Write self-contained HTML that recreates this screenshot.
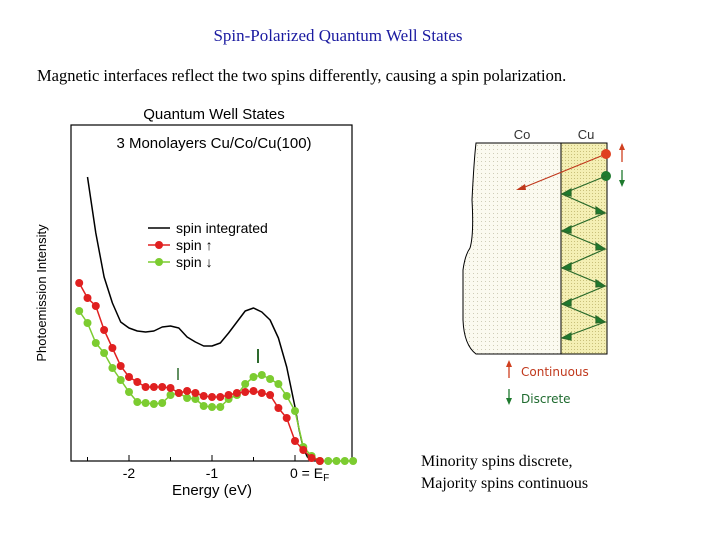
<!DOCTYPE html>
<html><head><meta charset="utf-8"><style>
body{margin:0;background:#fff;}
svg{display:block;}
</style></head><body>
<svg width="720" height="540" viewBox="0 0 720 540" xmlns="http://www.w3.org/2000/svg">
<defs>
<pattern id="dots" width="4" height="4" patternUnits="userSpaceOnUse"><rect width="4" height="4" fill="#fbfaf0"/><rect x="1" y="1" width="1" height="1" fill="#cfcdb8"/></pattern>
<pattern id="dotsY" width="3" height="3" patternUnits="userSpaceOnUse"><rect width="3" height="3" fill="#f4efb4"/><rect x="1" y="1" width="1" height="1" fill="#c9c07a"/></pattern>
</defs>
<text x="338" y="41" text-anchor="middle" font-family="Liberation Serif, serif" font-size="17" fill="#1a1aa0">Spin-Polarized Quantum Well States</text>
<text x="37" y="81" font-family="Liberation Serif, serif" font-size="16.5" fill="#000">Magnetic interfaces reflect the two spins differently, causing a spin polarization.</text>

<g id="chart">
<text x="214" y="119" text-anchor="middle" font-family="Liberation Sans, sans-serif" font-size="15">Quantum Well States</text>
<rect x="71" y="125" width="281" height="336" fill="none" stroke="#000" stroke-width="1.2"/>
<text x="214" y="148" text-anchor="middle" font-family="Liberation Sans, sans-serif" font-size="15">3 Monolayers Cu/Co/Cu(100)</text>
<text transform="translate(46,293) rotate(-90)" text-anchor="middle" font-family="Liberation Sans, sans-serif" font-size="13">Photoemission Intensity</text>
<text x="212" y="495" text-anchor="middle" font-family="Liberation Sans, sans-serif" font-size="15">Energy (eV)</text>
<g id="ticks"></g>
<g id="series"></g>
<line x1="178" y1="368" x2="178" y2="380" stroke="#2e6a2e" stroke-width="1.5"/>
<line x1="258" y1="349" x2="258" y2="363" stroke="#2e6a2e" stroke-width="2"/>
<g font-family="Liberation Sans, sans-serif" font-size="14">
<g><line x1="148" y1="228" x2="170" y2="228" stroke="#000" stroke-width="1.5"/><text x="176" y="233">spin integrated</text></g>
<g><line x1="148" y1="245" x2="170" y2="245" stroke="#e02020" stroke-width="1.5"/><circle cx="159" cy="245" r="4" fill="#e02020"/><text x="176" y="250">spin ↑</text></g>
<g><line x1="148" y1="262" x2="170" y2="262" stroke="#7ccc30" stroke-width="1.5"/><circle cx="159" cy="262" r="4" fill="#7ccc30"/><text x="176" y="267">spin ↓</text></g>
</g>
</g>

<g>
<text x="522" y="139" text-anchor="middle" font-family="Liberation Sans, sans-serif" font-size="13" fill="#333">Co</text>
<text x="586" y="139" text-anchor="middle" font-family="Liberation Sans, sans-serif" font-size="13" fill="#333">Cu</text>
<path d="M476,143 L561,143 L561,354 L476,354 Q464,345 463,320 L463,270 Q465,255 470,248 Q474,235 472,200 Q474,160 476,143 Z" fill="url(#dots)" stroke="#000"/>
<rect x="561" y="143" width="46" height="211" fill="url(#dotsY)" stroke="#000"/>
<line x1="606" y1="154" x2="520" y2="189" stroke="#c0381c" stroke-width="1.2"/>
<polygon points="516,190 525,184 526,190" fill="#c0381c"/>
<circle cx="606" cy="154" r="5" fill="#e04020"/>
<circle cx="606" cy="176" r="5" fill="#1e7a2e"/>
<g stroke="#2a6a2a" stroke-width="1.2" fill="#1e7a2e">
<polyline fill="none" points="606,176 562,194 605,213 562,231 605,249 562,268 605,286 562,304 605,322 562,338"/>
<polygon points="562,194 571,189 571,196"/><polygon points="605,213 596,207 596,214"/>
<polygon points="562,231 571,226 571,233"/><polygon points="605,249 596,243 596,250"/>
<polygon points="562,268 571,263 571,270"/><polygon points="605,286 596,280 596,287"/>
<polygon points="562,304 571,299 571,306"/><polygon points="605,322 596,316 596,323"/>
<polygon points="562,338 571,333 571,340"/>
</g>
<line x1="622" y1="148" x2="622" y2="162" stroke="#d04020" stroke-width="1.3"/><polygon points="619,150 625,150 622,143" fill="#d04020"/>
<line x1="622" y1="170" x2="622" y2="184" stroke="#1e7a2e" stroke-width="1.3"/><polygon points="619,180 625,180 622,187" fill="#1e7a2e"/>
<line x1="509" y1="366" x2="509" y2="378" stroke="#d04020" stroke-width="1.3"/><polygon points="506,367 512,367 509,360" fill="#d04020"/>
<text x="521" y="376" font-family="DejaVu Sans, sans-serif" font-size="12" fill="#c0381c">Continuous</text>
<line x1="509" y1="389" x2="509" y2="400" stroke="#1e7a2e" stroke-width="1.3"/><polygon points="506,398 512,398 509,405" fill="#1e7a2e"/>
<text x="521" y="403" font-family="DejaVu Sans, sans-serif" font-size="12" fill="#1e6a2e">Discrete</text>
</g>
<text x="421" y="466" font-family="Liberation Serif, serif" font-size="16">Minority spins discrete,</text>
<text x="421" y="488" font-family="Liberation Serif, serif" font-size="16">Majority spins continuous</text>
</svg>
<script>
const energies=[-2.6,-2.5,-2.4,-2.3,-2.2,-2.1,-2.0,-1.9,-1.8,-1.7,-1.6,-1.5,-1.4,-1.3,-1.2,-1.1,-1.0,-0.9,-0.8,-0.7,-0.6,-0.5,-0.4,-0.3,-0.2,-0.1,0.0,0.1,0.2,0.3,0.4,0.5,0.6,0.7];
const spinUp=[178,163,155,131,113,95,84,79,74,74,74,73,68,70,68,65,64,64,66,68,69,70,68,66,53,43,20,11,3,0];
const spinDown=[150,138,118,108,93,81,69,59,58,57,58,66,68,63,62,55,54,54,62,66,77,84,86,82,77,65,50,14,5,0,0,0,0,0];
const intE=[-2.5,-2.45,-2.4,-2.3,-2.2,-2.1,-2.0,-1.9,-1.8,-1.7,-1.6,-1.5,-1.4,-1.3,-1.2,-1.1,-1.0,-0.9,-0.8,-0.7,-0.6,-0.5,-0.4,-0.3,-0.2,-0.1,0.0,0.05,0.1,0.15,0.2];
const intVals=[284,256,228,184,158,139,133,130,129,130,134,135,133,124,119,115,115,118,128,139,150,153,149,141,123,94,54,31,13,4,1];
const xTicks=[-2,-1,0];
const xTickLabels=["-2","-1","0 = E"];
const NS="http://www.w3.org/2000/svg";
const X=e=>295+e*83, Y=v=>461-v;
function mk(t,a,p){const el=document.createElementNS(NS,t);for(const k in a)el.setAttribute(k,a[k]);p.appendChild(el);return el;}
const ticks=document.getElementById('ticks'), ser=document.getElementById('series');
xTicks.forEach((t,i)=>{
  const l=mk('line',{x1:X(t),x2:X(t),y1:461,y2:455,stroke:'#000'},ticks);
  
  
  const tx=mk('text',{x:X(t),y:478,'text-anchor':t===0?'start':'middle','font-family':'Liberation Sans, sans-serif','font-size':'14'},ticks);
  if(t===0)tx.setAttribute('x',X(t)-5);
  tx.textContent=xTickLabels[i];
  
  
  if(t===0){const s=mk('tspan',{'font-size':'10',dy:'3'},tx);s.textContent='F';}
});
for(let k=-2.5;k<=0.51;k+=0.5){const l=mk('line',{x1:X(k),x2:X(k),y1:461,y2:457,stroke:'#000'},ticks);}
const ip=mk('path',{d:'M'+intE.map((e,i)=>X(e)+','+Y(intVals[i])).join(' L'),fill:'none',stroke:'#000','stroke-width':1.5,'stroke-linejoin':'round'},ser);


function dots(vals,col,name){
  const g=mk('g',{},ser);
  
  
  mk('polyline',{points:vals.map((v,i)=>X(energies[i])+','+Y(v)).join(' '),fill:'none',stroke:col,'stroke-width':1.5},g);
  vals.forEach((v,i)=>{const c=mk('circle',{cx:X(energies[i]),cy:Y(v),r:4,fill:col},g);
    
    });
}
dots(spinDown,'#7ccc30','spin-down-series');
dots(spinUp,'#e02020','spin-up-series');
</script>
</body></html>
